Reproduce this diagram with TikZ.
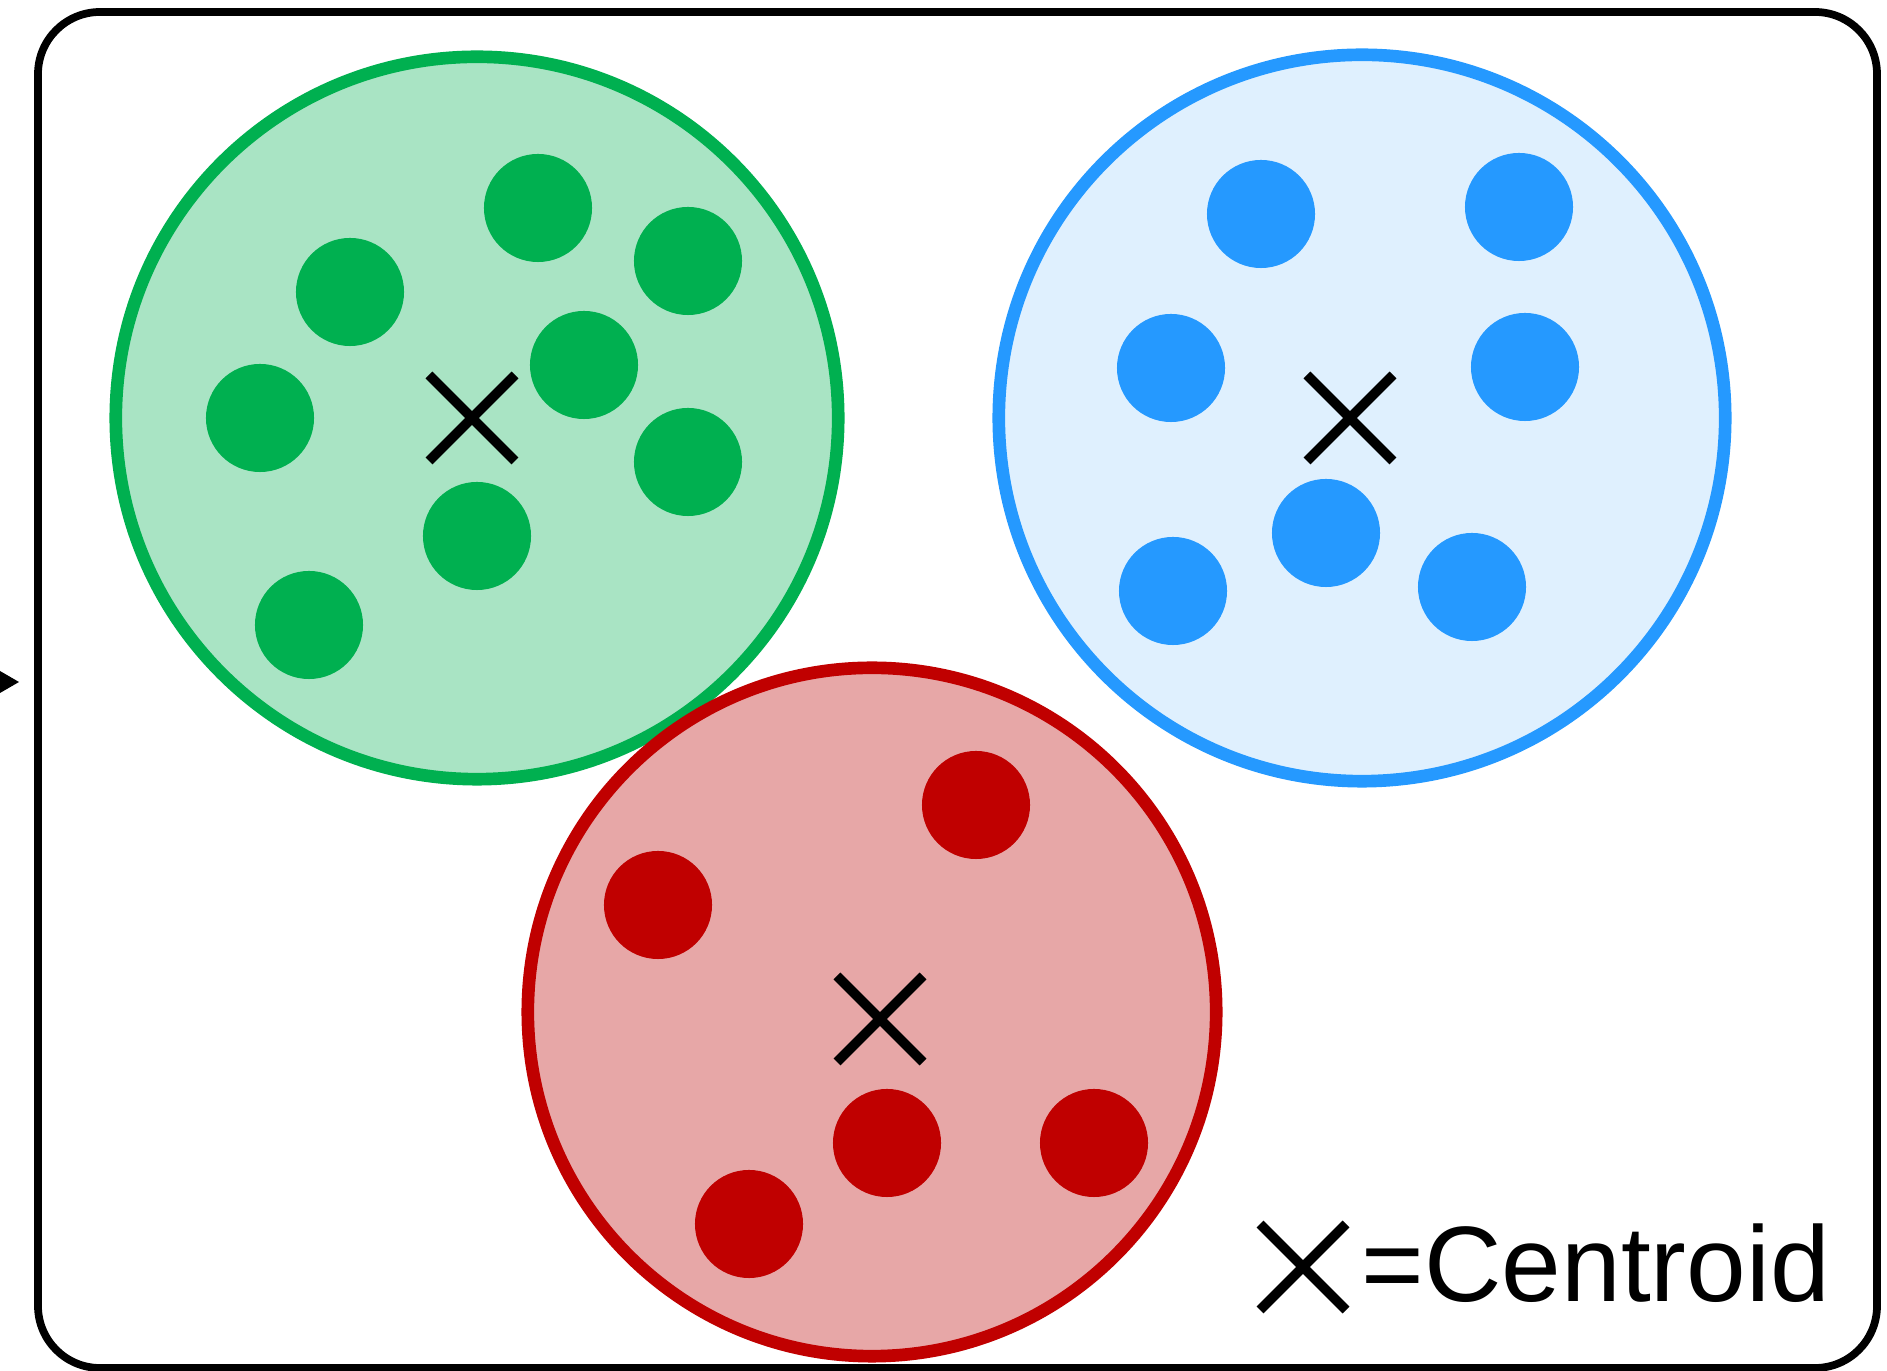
\documentclass[tikz,border=0pt]{standalone}
\usepackage{fontspec}
\setmainfont{Liberation Sans}
\definecolor{gfill}{HTML}{A9E4C4}
\definecolor{gline}{HTML}{00B050}
\definecolor{bfill}{HTML}{DFF0FE}
\definecolor{bline}{HTML}{2599FF}
\definecolor{rfill}{HTML}{E7A7A7}
\definecolor{rline}{HTML}{C00000}
\tikzset{
  clus/.style={circle, line width=3.6pt, inner sep=0pt},
  pt/.style={circle, inner sep=0pt, minimum size=1.08cm},
  cx/.style={line width=2.8pt, line cap=butt},
}
\newcommand{\centroidmark}[2]{%
  \draw[cx] (#1-43,#2-43) -- (#1+43,#2+43);
  \draw[cx] (#1-43,#2+43) -- (#1+43,#2-43);
}
\begin{document}
\begin{tikzpicture}[x=0.01cm,y=-0.01cm]
\useasboundingbox (0,0) rectangle (1887,1371);
% frame
\draw[line width=2.2pt, rounded corners=0.62cm] (38,12) rectangle (1877,1368);
% clipped arrow tip at left edge
\fill (0,671) -- (19,682) -- (0,693) -- cycle;
% green cluster
\node[clus, draw=gline, fill=gfill, minimum size=7.22cm] (gc) at (477,418) {};
% blue cluster
\node[clus, draw=bline, fill=bfill, minimum size=7.26cm] (bc) at (1362,418) {};
% red cluster
\node[clus, draw=rline, fill=rfill, minimum size=6.88cm] (rc) at (872,1012) {};
% green points
\foreach \x/\y [count=\i] in {538/208, 350/292, 688/261, 584/365, 260/418, 688/462, 477/536, 309/625}
  \node[pt, fill=gline] (g\i) at (\x,\y) {};
% blue points
\foreach \x/\y [count=\i] in {1261/214, 1519/207, 1171/368, 1525/367, 1173/591, 1326/533, 1472/587}
  \node[pt, fill=bline] (b\i) at (\x,\y) {};
% red points
\foreach \x/\y [count=\i] in {976/805, 658/905, 887/1143, 1094/1143, 749/1224}
  \node[pt, fill=rline] (r\i) at (\x,\y) {};
% centroids
\centroidmark{472}{418}
\centroidmark{1350}{418}
\centroidmark{880}{1019}
% legend
\centroidmark{1303}{1267}
\node[anchor=base west, inner sep=0pt, font=\fontsize{30.5pt}{36pt}\selectfont] (leg) at (1361,1302) {=Centroid};
\end{tikzpicture}
\end{document}
